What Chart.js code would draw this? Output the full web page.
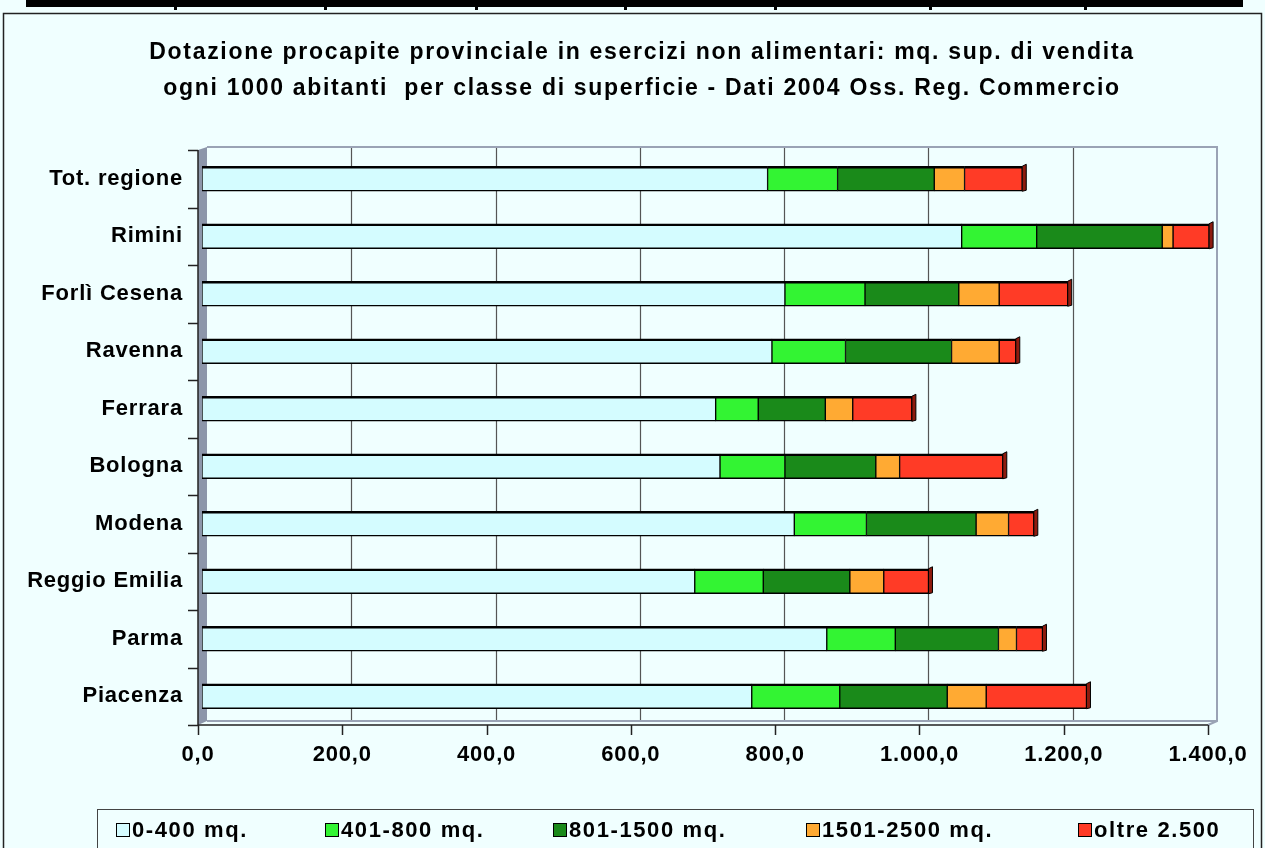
<!DOCTYPE html>
<html lang="it">
<head>
<meta charset="utf-8">
<title>Dotazione procapite provinciale - esercizi non alimentari</title>
<script src="https://cdn.jsdelivr.net/npm/chart.js@4.4.1/dist/chart.umd.min.js"></script>
<style>
    html, body { margin: 0; padding: 0; background: #F0FFFF; }
    canvas { display: block; }
</style>
</head>
<body>
<canvas id="grafico" width="1265" height="848"></canvas>
<script>
// Dati 2004 Oss. Reg. Commercio - mq. sup. di vendita ogni 1000 abitanti
const province = ['Tot. regione', 'Rimini', 'Forlì Cesena', 'Ravenna', 'Ferrara', 'Bologna', 'Modena', 'Reggio Emilia', 'Parma', 'Piacenza'];
const classe0_400 = [784, 1053, 808, 790, 712, 718, 821, 683, 866, 762];
const classe401_800 = [97, 104, 111, 102, 59, 90, 100, 95, 95, 122];
const classe801_1500 = [134, 174, 130, 147, 93, 126, 152, 120, 143, 149];
const classe1501_2500 = [42, 15, 56, 66, 38, 33, 45, 47, 25, 54];
const classeOltre2500 = [80, 50, 95, 23, 82, 143, 35, 62, 36, 139];

const nomiSerie = ['0-400 mq.', '401-800 mq.', '801-1500 mq.', '1501-2500 mq.', 'oltre 2.500'];
const coloriSerie = ['#D4FCFF', '#33F433', '#1A8A1A', '#FFAA33', '#FF3B26'];
const tickValori = [0, 200, 400, 600, 800, 1000, 1200, 1400];
const titolo = [
    'Dotazione procapite provinciale in esercizi non alimentari: mq. sup. di vendita',
    'ogni 1000 abitanti  per classe di superficie - Dati 2004 Oss. Reg. Commercio'
];

const FONT = '"Liberation Sans", Arial, sans-serif';
const SFONDO = '#F0FFFF';

// formato italiano: 1.400,0
function formatoIt(v) {
    const [intero, dec] = Number(v).toFixed(1).split('.');
    return intero.replace(/\B(?=(\d{3})+(?!\d))/g, '.') + ',' + dec;
}

const valori = [classe0_400, classe401_800, classe801_1500, classe1501_2500, classeOltre2500];

// sfondo, cornice e fascia nera in alto
const sfondoPlugin = {
    id: 'sfondo',
    beforeDraw(chart) {
        const ctx = chart.ctx;
        ctx.save();
        ctx.fillStyle = SFONDO;
        ctx.fillRect(0, 0, chart.width, chart.height);
        // fascia nera (bordo tabella del documento)
        ctx.fillStyle = '#000';
        ctx.fillRect(26, 0, 1217, 7);
        [175, 325, 476, 625, 775, 930, 1085].forEach(x => ctx.fillRect(x - 1, 0, 3, 10));
        // cornice del grafico
        ctx.strokeStyle = '#222';
        ctx.lineWidth = 1.5;
        ctx.strokeRect(3.5, 13.5, 1258, 850);
        ctx.restore();
        ctx.letterSpacing = '0.8px';
    }
};

// pareti 3D, griglia e assi
const paretiPlugin = {
    id: 'pareti',
    beforeDatasetsDraw(chart) {
        const ctx = chart.ctx;
        const xs = chart.scales.x;
        const a = chart.chartArea;
        const dx = 5, fx = -4;
        const topWall = a.top - 3, botWall = a.bottom - 4;
        ctx.save();
        // parete sinistra
        ctx.fillStyle = '#8C96AA';
        ctx.beginPath();
        ctx.moveTo(a.left + fx, a.top);
        ctx.lineTo(a.left + dx, topWall);
        ctx.lineTo(a.left + dx, botWall);
        ctx.lineTo(a.left + fx, a.bottom);
        ctx.closePath();
        ctx.fill();
        // griglia verticale sulla parete di fondo
        ctx.strokeStyle = '#555';
        ctx.lineWidth = 1.2;
        tickValori.slice(1, -1).forEach(v => {
            const x = Math.round(xs.getPixelForValue(v) + dx) + 0.5;
            ctx.beginPath();
            ctx.moveTo(x, topWall);
            ctx.lineTo(x, botWall);
            ctx.stroke();
        });
        // bordi della parete di fondo e pavimento
        const xEnd = xs.getPixelForValue(1400);
        ctx.strokeStyle = '#9AA3B5';
        ctx.lineWidth = 2;
        ctx.beginPath();
        ctx.moveTo(a.left + dx, topWall);
        ctx.lineTo(xEnd + dx, topWall);
        ctx.lineTo(xEnd + dx, botWall);
        ctx.lineTo(xEnd + fx, a.bottom);
        ctx.moveTo(a.left + dx, botWall);
        ctx.lineTo(xEnd + dx, botWall);
        ctx.stroke();
        // asse X frontale con tacche
        ctx.strokeStyle = '#222';
        ctx.lineWidth = 1.5;
        ctx.beginPath();
        ctx.moveTo(a.left + fx, a.bottom);
        ctx.lineTo(xEnd + fx, a.bottom);
        tickValori.forEach(v => {
            const x = Math.round(xs.getPixelForValue(v) + fx) + 0.5;
            ctx.moveTo(x, a.bottom);
            ctx.lineTo(x, a.bottom + 10);
        });
        ctx.stroke();
        // asse Y con tacche tra le categorie
        ctx.beginPath();
        ctx.moveTo(a.left + fx, a.top);
        ctx.lineTo(a.left + fx, a.bottom);
        const passo = (a.bottom - a.top) / province.length;
        for (let i = 0; i <= province.length; i++) {
            const y = Math.round(a.top + i * passo) + 0.5;
            ctx.moveTo(a.left + fx - 10, y);
            ctx.lineTo(a.left + fx, y);
        }
        ctx.stroke();
        ctx.restore();
    },
    // faccia terminale 3D delle barre
    afterDatasetsDraw(chart) {
        const ctx = chart.ctx;
        const meta = chart.getDatasetMeta(valori.length - 1);
        ctx.save();
        ctx.fillStyle = '#8E1B0E';
        ctx.strokeStyle = '#000';
        ctx.lineWidth = 1;
        meta.data.forEach(bar => {
            const h = bar.height;
            ctx.beginPath();
            ctx.moveTo(bar.x, bar.y - h / 2);
            ctx.lineTo(bar.x + 4, bar.y - h / 2 - 2);
            ctx.lineTo(bar.x + 4, bar.y + h / 2 - 1);
            ctx.lineTo(bar.x, bar.y + h / 2);
            ctx.closePath();
            ctx.fill();
            ctx.stroke();
        });
        ctx.restore();
    }
};

// titolo e legenda
const testiPlugin = {
    id: 'testi',
    afterDraw(chart) {
        const ctx = chart.ctx;
        ctx.save();
        ctx.fillStyle = '#000';
        ctx.textAlign = 'center';
        ctx.textBaseline = 'middle';
        ctx.font = 'bold 23px ' + FONT;
        ctx.letterSpacing = '1.7px';
        titolo.forEach((riga, i) => ctx.fillText(riga, 642, 53 + i * 36));

        // riquadro legenda
        ctx.letterSpacing = '1.6px';
        ctx.strokeStyle = '#444';
        ctx.lineWidth = 1;
        ctx.fillStyle = SFONDO;
        ctx.fillRect(97.5, 809.5, 1156, 60);
        ctx.strokeRect(97.5, 809.5, 1156, 60);
        ctx.font = 'bold 22px ' + FONT;
        ctx.textAlign = 'left';
        const inizio = [116, 325, 553, 806, 1078];
        nomiSerie.forEach((nome, i) => {
            const x = inizio[i];
            ctx.fillStyle = coloriSerie[i];
            ctx.fillRect(x + 0.5, 823.5, 13, 13);
            ctx.strokeStyle = '#000';
            ctx.strokeRect(x + 0.5, 823.5, 13, 13);
            ctx.fillStyle = '#000';
            ctx.fillText(nome, x + 16, 831);
        });
        ctx.restore();
    }
};

new Chart(document.getElementById('grafico'), {
    type: 'bar',
    data: {
        labels: province,
        datasets: valori.map((serie, i) => ({
            label: nomiSerie[i],
            data: serie,
            backgroundColor: coloriSerie[i],
            borderColor: '#000',
            borderWidth: { top: 2.5, bottom: 1.5, left: 1, right: 1 },
            borderSkipped: false,
            barThickness: 25
        }))
    },
    options: {
        indexAxis: 'y',
        responsive: false,
        animation: false,
        devicePixelRatio: 1,
        layout: { padding: { top: 150, right: 53, left: 0, bottom: 0 } },
        plugins: {
            legend: { display: false },
            title: { display: false },
            tooltip: { enabled: false }
        },
        scales: {
            x: {
                stacked: true,
                min: 0,
                max: 1400,
                afterFit: s => { s.height = 123; },
                afterBuildTicks: s => { s.ticks = tickValori.map(v => ({ value: v })); },
                grid: { display: false },
                border: { display: false },
                ticks: {
                    callback: v => formatoIt(v),
                    font: { family: FONT, size: 22, weight: 'bold' },
                    color: '#000',
                    padding: 9,
                    labelOffset: -4,
                    autoSkip: false,
                    maxRotation: 0
                }
            },
            y: {
                stacked: true,
                afterFit: s => { s.width = 202; },
                grid: { display: false },
                border: { display: false },
                ticks: {
                    font: { family: FONT, size: 22, weight: 'bold' },
                    color: '#000',
                    padding: 11,
                    autoSkip: false
                }
            }
        }
    },
    plugins: [sfondoPlugin, paretiPlugin, testiPlugin]
});
</script>
</body>
</html>
